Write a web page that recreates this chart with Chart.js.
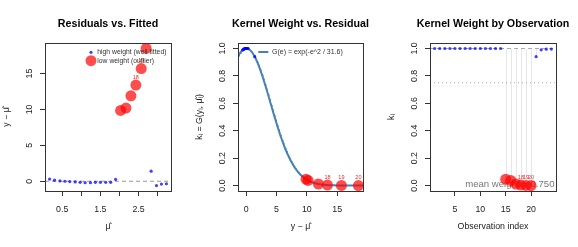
<!DOCTYPE html>
<html><head><meta charset="utf-8">
<script src="https://cdn.jsdelivr.net/npm/chart.js@4/dist/chart.umd.min.js"></script>
<style>
html,body{margin:0;padding:0;background:#fff;width:578px;height:247px;overflow:hidden}
canvas{position:absolute;top:0}
</style></head><body>
<canvas id="c1" width="193" height="247" style="left:0px"></canvas>
<canvas id="c2" width="192" height="247" style="left:193px"></canvas>
<canvas id="c3" width="193" height="247" style="left:385px"></canvas>
<script>
// ---------------- data ----------------
const obsIndex  = [1,2,3,4,5,6,7,8,9,10,11,12,13,14,15,16,17,18,19,20,21,22,23,24];
const fitted    = [0.17,0.30,0.44,0.57,0.70,0.84,0.97,1.10,1.24,1.37,1.50,1.64,1.77,1.90,2.03,2.17,2.30,2.43,2.57,2.70,2.83,2.97,3.10,3.23];
const residuals = [0.30,0.15,0.05,0.00,-0.05,-0.10,-0.15,-0.20,-0.20,-0.15,-0.15,-0.15,-0.15,0.25,9.86,10.20,11.90,13.40,15.70,18.50,1.40,-0.60,-0.40,-0.35];
const weights   = [1,1,1,1,1,1,1,1,1,1,1,1,1,1,0.046,0.037,0.011,0.003,0.0004,0.00002,0.94,0.99,0.995,0.996];
const labelledObs = [18,19,20];
const bandwidth = 31.6;
const meanWeight = 0.750;
const titles = ['Residuals vs. Fitted','Kernel Weight vs. Residual','Kernel Weight by Observation'];
const legend1 = ['high weight (well fitted)','low weight (outlier)'];
const legend2 = 'G(e) = exp(-e^2 / 31.6)';
const x1Ticks = [0.5,1.0,1.5,2.0,2.5,3.0]; const x1Labels = ['0.5','','1.5','','2.5',''];
const y1Ticks = [0,5,10,15];              const y1Labels = ['0','5','10','15'];
const x2Ticks = [0,5,10,15];              const x2Labels = ['0','5','10','15'];
const wTicks  = [0,0.2,0.4,0.6,0.8,1.0];  const wLabels  = ['0.0','0.2','0.4','0.6','0.8','1.0'];
const x3Ticks = [5,10,15,20];             const x3Labels = ['5','10','15','20'];
const eGrid = [];
for (let e = -1.4; e <= 19.4; e += 0.1) eGrid.push(+e.toFixed(2));

// ---------------- style ----------------
const FONT = "'Liberation Sans', Arial, Helvetica, sans-serif";
const BLUE = 'rgba(0,0,255,0.75)';
const RED = 'rgba(255,0,0,0.7)';
const LINEBLUE = '#4682B4';
const isHigh = i => weights[i] >= 0.5;

function axes(o) {
  return {
    x: {
      type: 'linear', min: o.xMin, max: o.xMax,
      afterBuildTicks: s => { s.ticks = o.xTicks.map(v => ({value: v})); },
      afterFit: s => { s.height = 56; },
      ticks: { autoSkip: false, maxRotation: 0, minRotation: 0, padding: 8, color: '#222',
               font: {family: FONT, size: 8.8}, callback: (v, i) => o.xLabels[i] },
      grid: { drawOnChartArea: false, drawTicks: true, tickLength: 5, color: '#333', lineWidth: 1 },
      border: { display: false },
      title: { display: true, text: o.xTitle, color: '#222', font: {family: FONT, size: 8.8}, padding: {top: 0, bottom: 15} }
    },
    y: {
      type: 'linear', min: o.yMin, max: o.yMax,
      afterBuildTicks: s => { s.ticks = o.yTicks.map(v => ({value: v})); },
      afterFit: s => { s.width = 45; },
      ticks: { autoSkip: false, minRotation: 90, maxRotation: 90, crossAlign: 'center', padding: o.yPad, color: '#222',
               font: {family: FONT, size: 8.8}, callback: (v, i) => o.yLabels[i] },
      grid: { drawOnChartArea: false, drawTicks: true, tickLength: 5, color: '#333', lineWidth: 1 },
      border: { display: false },
      title: { display: true, text: o.yTitle, color: '#222', font: {family: FONT, size: 8.8}, padding: {top: 1, bottom: 0} }
    }
  };
}

const framePlugin = {
  id: 'frame',
  afterDraw(chart) {
    const a = chart.chartArea, c = chart.ctx;
    c.save();
    c.strokeStyle = '#333'; c.lineWidth = 1;
    c.strokeRect(Math.round(a.left) + 0.5, Math.round(a.top) + 0.5, Math.round(a.right - a.left), Math.round(a.bottom - a.top));
    c.fillStyle = '#000';
    c.font = 'bold 10.7px ' + FONT;
    c.textAlign = 'center'; c.textBaseline = 'alphabetic';
    c.fillText(chart.options.plugins.mainTitle, (a.left + a.right) / 2, 26.7);
    c.restore();
  }
};

function hLine(chart, value, color, dash) {
  const a = chart.chartArea, c = chart.ctx, y = chart.scales.y.getPixelForValue(value);
  c.save(); c.beginPath(); c.rect(a.left, a.top, a.right - a.left, a.bottom - a.top); c.clip();
  c.strokeStyle = color; c.lineWidth = 1; c.setLineDash(dash);
  c.beginPath(); c.moveTo(a.left, y); c.lineTo(a.right, y); c.stroke(); c.restore();
}

function pointLabels(chart, xs, ys) {
  const a = chart.chartArea, c = chart.ctx;
  c.save(); c.beginPath(); c.rect(a.left, a.top, a.right - a.left, a.bottom - a.top); c.clip();
  c.fillStyle = 'rgba(230,0,0,0.85)'; c.font = '5.5px ' + FONT; c.textAlign = 'center'; c.textBaseline = 'middle';
  labelledObs.forEach(n => {
    const i = n - 1;
    c.fillText(String(n), chart.scales.x.getPixelForValue(xs[i]), chart.scales.y.getPixelForValue(ys[i]) - 8);
  });
  c.restore();
}

function pts(xs, ys, keep) {
  const out = [];
  xs.forEach((x, i) => { if (keep(i)) out.push({x: x, y: ys[i]}); });
  return out;
}

const common = {
  responsive: false, animation: false, devicePixelRatio: 1,
  layout: { padding: {left: 0, right: 22, top: 43, bottom: 0} },
  events: []
};

// ---------------- panel 1 ----------------
new Chart(document.getElementById('c1'), {
  type: 'scatter',
  data: { datasets: [
    { data: pts(fitted, residuals, isHigh), pointRadius: 1.6, backgroundColor: BLUE, borderWidth: 0, clip: 0 },
    { data: pts(fitted, residuals, i => !isHigh(i)), pointRadius: 5.5, backgroundColor: RED, borderWidth: 0, clip: 0 }
  ]},
  options: Object.assign({}, common, {
    plugins: { legend: {display: false}, tooltip: {enabled: false}, mainTitle: titles[0] },
    scales: axes({ xMin: 0.05, xMax: 3.35, yMin: -1.36, yMax: 19.26, xTicks: x1Ticks, xLabels: x1Labels,
                   yTicks: y1Ticks, yLabels: y1Labels, xTitle: 'μ̂', yTitle: 'y − μ̂', yPad: 5.6 })
  }),
  plugins: [framePlugin, {
    id: 'p1',
    beforeDatasetsDraw(chart) { hLine(chart, 0, '#999', [4, 3]); },
    afterDatasetsDraw(chart) {
      pointLabels(chart, fitted, residuals);
      const a = chart.chartArea, c = chart.ctx;
      c.save();
      c.fillStyle = BLUE; c.beginPath(); c.arc(a.left + 46, a.top + 9.3, 1.6, 0, Math.PI * 2); c.fill();
      c.fillStyle = RED; c.beginPath(); c.arc(a.left + 46, a.top + 17.7, 5.5, 0, Math.PI * 2); c.fill();
      c.fillStyle = '#333'; c.font = '6.8px ' + FONT; c.textAlign = 'left'; c.textBaseline = 'middle';
      c.fillText(legend1[0], a.left + 52.3, a.top + 9.3);
      c.fillText(legend1[1], a.left + 52.3, a.top + 17.9);
      c.restore();
    }
  }]
});

// ---------------- panel 2 ----------------
new Chart(document.getElementById('c2'), {
  type: 'scatter',
  data: { datasets: [
    { data: pts(residuals, weights, isHigh), pointRadius: 1.6, backgroundColor: BLUE, borderWidth: 0, clip: 0 },
    { data: pts(residuals, weights, i => !isHigh(i)), pointRadius: 5.5, backgroundColor: RED, borderWidth: 0, clip: 0 },
    { type: 'line', data: eGrid.map(e => ({x: e, y: Math.exp(-e * e / bandwidth)})), borderColor: LINEBLUE,
      borderWidth: 2, pointRadius: 0, fill: false, tension: 0, clip: 0 }
  ]},
  options: Object.assign({}, common, {
    plugins: { legend: {display: false}, tooltip: {enabled: false}, mainTitle: titles[1] },
    scales: axes({ xMin: -1.36, xMax: 19.26, yMin: -0.04, yMax: 1.04, xTicks: x2Ticks, xLabels: x2Labels,
                   yTicks: wTicks, yLabels: wLabels, xTitle: 'y − μ̂', yTitle: 'kᵢ = G(yᵢ, μ̂ᵢ)', yPad: 4.4 })
  }),
  plugins: [framePlugin, {
    id: 'p2',
    afterDatasetsDraw(chart) {
      pointLabels(chart, residuals, weights);
      const a = chart.chartArea, c = chart.ctx;
      c.save();
      c.strokeStyle = LINEBLUE; c.lineWidth = 2;
      c.beginPath(); c.moveTo(a.left + 20.3, a.top + 9); c.lineTo(a.left + 30.3, a.top + 9); c.stroke();
      c.fillStyle = '#333'; c.font = '7px ' + FONT; c.textAlign = 'left'; c.textBaseline = 'middle';
      c.fillText(legend2, a.left + 34, a.top + 9);
      c.restore();
    }
  }]
});

// ---------------- panel 3 ----------------
new Chart(document.getElementById('c3'), {
  type: 'scatter',
  data: { datasets: [
    { data: pts(obsIndex, weights, isHigh), pointRadius: 1.6, backgroundColor: BLUE, borderWidth: 0, clip: 0 },
    { data: pts(obsIndex, weights, i => !isHigh(i)), pointRadius: 5.5, backgroundColor: RED, borderWidth: 0, clip: 0 }
  ]},
  options: Object.assign({}, common, {
    plugins: { legend: {display: false}, tooltip: {enabled: false}, mainTitle: titles[2] },
    scales: axes({ xMin: 0.08, xMax: 24.92, yMin: -0.04, yMax: 1.04, xTicks: x3Ticks, xLabels: x3Labels,
                   yTicks: wTicks, yLabels: wLabels, xTitle: 'Observation index', yTitle: 'kᵢ', yPad: 4.4 })
  }),
  plugins: [framePlugin, {
    id: 'p3',
    beforeDatasetsDraw(chart) {
      const a = chart.chartArea, c = chart.ctx, sx = chart.scales.x, sy = chart.scales.y;
      c.save();
      c.strokeStyle = '#e6e6e6'; c.lineWidth = 1;
      obsIndex.forEach((n, i) => {
        const x = Math.round(sx.getPixelForValue(n)) + 0.5;
        c.beginPath(); c.moveTo(x, sy.getPixelForValue(weights[i])); c.lineTo(x, sy.getPixelForValue(1)); c.stroke();
      });
      c.restore();
      hLine(chart, 1, '#aaa', [4, 3]);
      hLine(chart, meanWeight, '#aaa', [1, 3]);
      c.save();
      c.fillStyle = '#777'; c.font = '9.6px ' + FONT; c.textAlign = 'right'; c.textBaseline = 'middle';
      c.fillText('mean weight = ' + meanWeight.toFixed(3), a.right - 1.5, a.bottom - 6.3);
      c.restore();
    },
    afterDatasetsDraw(chart) { pointLabels(chart, obsIndex, weights); }
  }]
});
</script>
</body></html>
